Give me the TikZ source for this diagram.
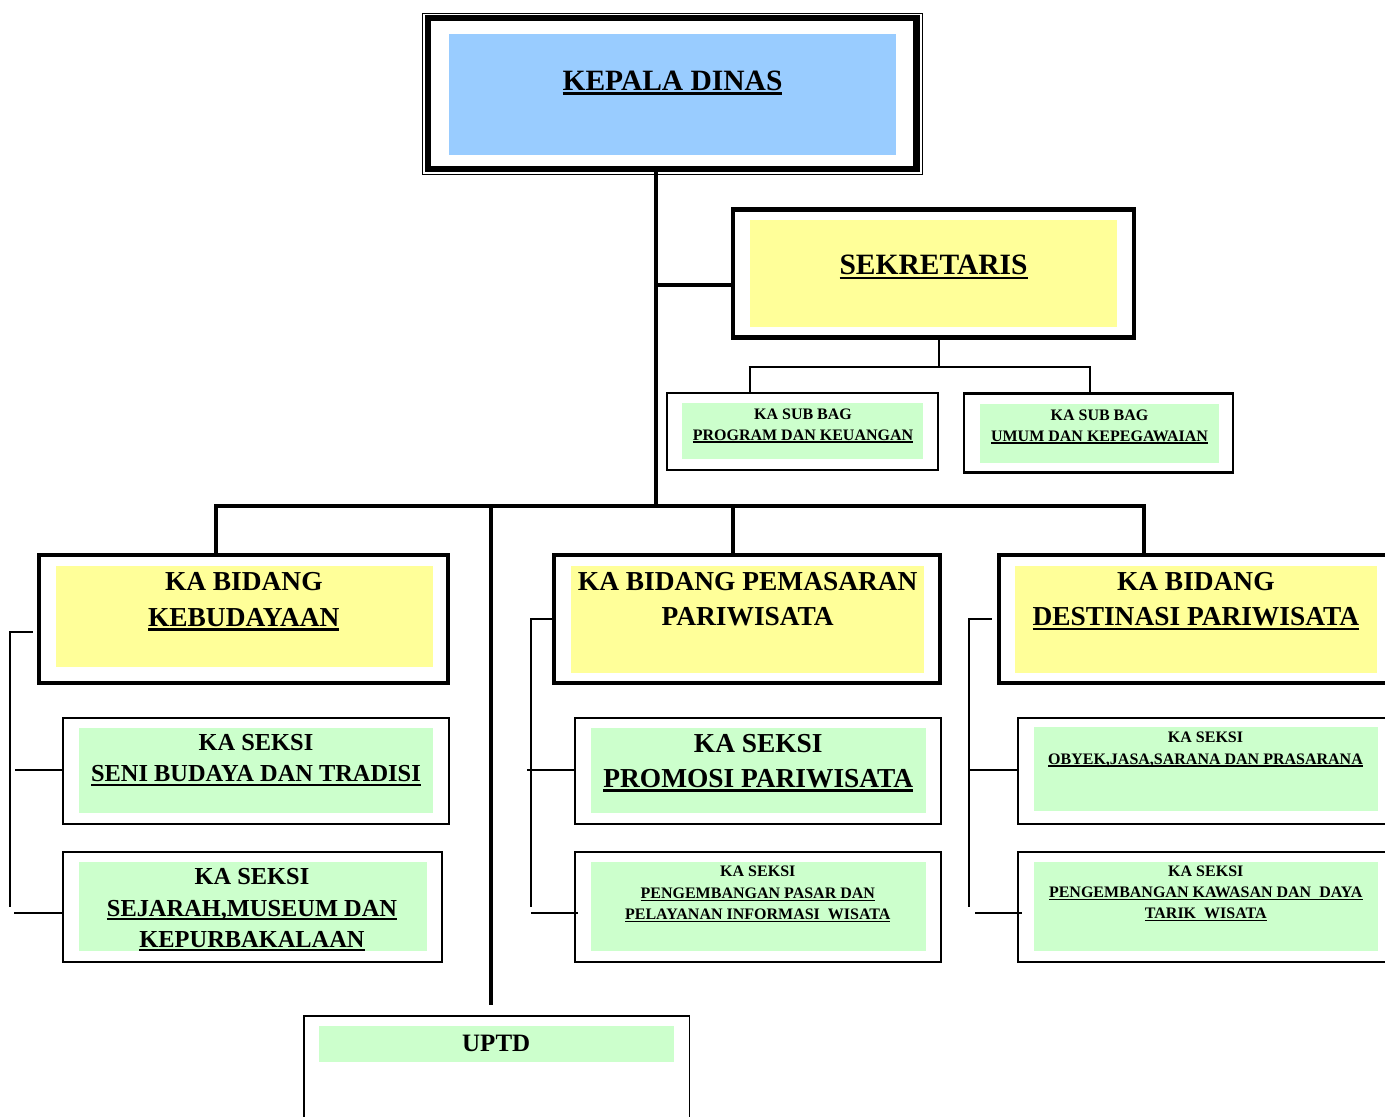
\documentclass[tikz,border=0pt]{standalone}
\usepackage{fontspec}
\setmainfont{Liberation Serif}
\usetikzlibrary{calc}
\definecolor{kdblue}{HTML}{99CCFF}
\definecolor{ylw}{HTML}{FFFF99}
\definecolor{grn}{HTML}{CCFFCC}
\newsavebox{\ulbx}
\newcommand{\myul}[1]{\sbox{\ulbx}{#1}\rlap{\rule[-0.165em]{\wd\ulbx}{0.09em}}\usebox{\ulbx}}
\begin{document}
\begin{tikzpicture}[x=1pt,y=-1pt,
  box/.style={draw=black, rectangle, inner sep=0pt, outer sep=0pt},
  heavybox/.style={box, line width=4pt},
  thinbox/.style={box, line width=2pt},
  lbl/.style={anchor=base, inner sep=0pt, outer sep=0pt, text=black},
  tA/.style={lbl, font=\bfseries\fontsize{29.5}{30}\selectfont},
  tB/.style={lbl, font=\bfseries\fontsize{27.4}{28}\selectfont},
  tC/.style={lbl, font=\bfseries\fontsize{24.4}{26}\selectfont},
  tD/.style={lbl, font=\bfseries\fontsize{16}{18}\selectfont},
  busline/.style={line width=4pt},
  subline/.style={line width=2.2pt},
  brk/.style={line width=2pt},
]
\useasboundingbox (0,0) rectangle (1385,1117);
\fill[white] (0,0) rectangle (1385,1117);
\clip (0,0) rectangle (1385,1117);

% ---------- fills ----------
\fill[kdblue] (449,34) rectangle (896,155);
\fill[ylw] (750,220) rectangle (1117,327);
\fill[grn] (682.3,403.3) rectangle (922.7,459.3);
\fill[grn] (980.4,404) rectangle (1218.8,462.7);
\fill[ylw] (56,566) rectangle (432.7,666.7);
\fill[ylw] (571,566) rectangle (924,672.7);
\fill[ylw] (1015,566) rectangle (1377.3,672.7);
\fill[grn] (79,728.3) rectangle (433.3,813.3);
\fill[grn] (79,861.7) rectangle (427.3,951);
\fill[grn] (591,728.3) rectangle (925.7,813.3);
\fill[grn] (591,861.7) rectangle (925.7,951);
\fill[grn] (1034,727.3) rectangle (1377.7,810.7);
\fill[grn] (1034,861.7) rectangle (1377.7,951);
\fill[grn] (319.3,1026) rectangle (674,1061.7);

% ---------- boxes ----------
\draw[line width=1.3pt] (422.5,13.5) rectangle (922.5,174.5);
\node[box, line width=6.5pt, minimum width=488.5pt, minimum height=151pt] (kd) at (672.25,93.5) {};
\node[box, line width=4.5pt, minimum width=401pt, minimum height=128pt] (sek) at (933.5,273.5) {};
\node[thinbox, minimum width=271.5pt, minimum height=77.5pt] (sb1) at (802.25,431.25) {};
\node[box, line width=2.5pt, minimum width=269pt, minimum height=79pt] (sb2) at (1098.5,433) {};
\node[heavybox, minimum width=409.3pt, minimum height=127.7pt] (kb) at (243.35,619.15) {};
\node[heavybox, minimum width=385.4pt, minimum height=127.7pt] (pm) at (747,619.15) {};
\node[heavybox, minimum width=401.3pt, minimum height=127.7pt] (ds) at (1199.35,619.15) {};
\node[thinbox, minimum width=386.5pt, minimum height=106pt] (seni) at (255.75,770.5) {};
\node[thinbox, minimum width=379.5pt, minimum height=110pt] (sej) at (252.25,906.5) {};
\node[thinbox, minimum width=366.2pt, minimum height=106pt] (prom) at (757.9,770.5) {};
\node[thinbox, minimum width=366.2pt, minimum height=110pt] (psr) at (757.9,906.5) {};
\node[thinbox, minimum width=382.5pt, minimum height=106pt] (oby) at (1208.75,770.5) {};
\node[thinbox, minimum width=382.5pt, minimum height=110pt] (kws) at (1208.75,906.5) {};
\node[box, line width=1.5pt, minimum width=385.3pt, minimum height=114.2pt] (uptd) at (496.65,1072.9) {};

% ---------- texts ----------
\node[tA] (kd-t) at (672.5,90) {\myul{KEPALA DINAS}};
\node[tA] (sek-t) at (933.5,274.5) {\myul{SEKRETARIS}};
\node[tD] (sb1-t1) at (803,419.3) {KA SUB BAG};
\node[tD] (sb1-t2) at (803,440) {\myul{PROGRAM DAN KEUANGAN}};
\node[tD] (sb2-t1) at (1099.5,420.7) {KA SUB BAG};
\node[tD] (sb2-t2) at (1099.5,441) {\myul{UMUM DAN KEPEGAWAIAN}};
\node[tB] (kb-t1) at (243.8,590.7) {KA BIDANG};
\node[tB] (kb-t2) at (243.8,626) {\myul{KEBUDAYAAN}};
\node[tB] (pm-t1) at (747.7,590.7) {KA BIDANG PEMASARAN};
\node[tB] (pm-t2) at (747.7,625.7) {PARIWISATA};
\node[tB] (ds-t1) at (1195.8,590.7) {KA BIDANG};
\node[tB] (ds-t2) at (1195.8,625.7) {\myul{DESTINASI PARIWISATA}};
\node[tC] (seni-t1) at (256,750.7) {KA SEKSI};
\node[tC] (seni-t2) at (256,781.7) {\myul{SENI BUDAYA DAN TRADISI}};
\node[tC] (sej-t1) at (252,884) {KA SEKSI};
\node[tC] (sej-t2) at (252,916) {\myul{SEJARAH,MUSEUM DAN}};
\node[tC] (sej-t3) at (252,947.3) {\myul{KEPURBAKALAAN}};
\node[tB] (prom-t1) at (758.3,752.3) {KA SEKSI};
\node[tB] (prom-t2) at (758.3,787.3) {\myul{PROMOSI PARIWISATA}};
\node[tD] (psr-t1) at (757.8,876.7) {KA SEKSI};
\node[tD] (psr-t2) at (757.8,898.3) {\myul{PENGEMBANGAN PASAR DAN}};
\node[tD] (psr-t3) at (757.8,919.3) {\myul{PELAYANAN INFORMASI\ \ WISATA}};
\node[tD] (oby-t1) at (1205.5,742.7) {KA SEKSI};
\node[tD] (oby-t2) at (1205.5,764) {\myul{OBYEK,JASA,SARANA DAN PRASARANA}};
\node[tD] (kws-t1) at (1205.8,876) {KA SEKSI};
\node[tD] (kws-t2) at (1205.8,897.3) {\myul{PENGEMBANGAN KAWASAN DAN\ \ DAYA}};
\node[tD] (kws-t3) at (1205.8,918.3) {\myul{TARIK\ \ WISATA}};
\node[lbl, font=\bfseries\fontsize{25}{27}\selectfont] (uptd-t) at (496.2,1051) {UPTD};

% ---------- connectors ----------
\coordinate (j) at (656,506);
\coordinate (sj) at (656,284.7);
\coordinate (bL) at (216,506);
\coordinate (bM) at (733,506);
\coordinate (bR) at (1144,506);
\coordinate (bU) at (490.5,506);
\coordinate (uend) at (490.5,1005);
\draw[busline] (j |- kd.south) -- (j);
\draw[busline] (sj) -- (sj -| sek.west);
\draw[busline] ([xshift=-2pt]bL) -- ([xshift=2pt]bR);
\draw[busline] (bL) -- (bL |- kb.north);
\draw[busline] (bM) -- (bM |- pm.north);
\draw[busline] (bR) -- (bR |- ds.north);
\draw[busline] (bU) -- (uend);

\coordinate (sbj) at (939,367);
\coordinate (sbl) at (749.6,367);
\coordinate (sbr) at (1090,367);
\draw[subline] (sbj |- sek.south) -- (sbj);
\draw[subline] ([xshift=-1pt]sbl) -- ([xshift=1pt]sbr);
\draw[subline] (sbl) -- (sbl |- sb1.north);
\draw[subline] (sbr) -- (sbr |- sb2.north);

% left bracket
\coordinate (la) at (10,632);
\coordinate (lb) at (10,907);
\coordinate (lc) at (15,770);
\coordinate (ld) at (14,913);
\draw[brk] (la) -- (lb);
\draw[brk] ([xshift=-1pt]la) -- (33,632);
\draw[brk] (lc) -- (lc -| seni.west);
\draw[brk] (ld) -- (ld -| sej.west);
% middle bracket
\coordinate (ma) at (531,619);
\coordinate (mb) at (531,907);
\coordinate (mc) at (527.3,770);
\coordinate (md) at (531,913);
\draw[brk] (ma) -- (mb);
\draw[brk] ([xshift=-1pt]ma) -- (ma -| pm.west);
\draw[brk] (mc) -- (mc -| prom.west);
\draw[brk] (md) -- ($(md -| psr.west)+(3,0)$);
% right bracket
\coordinate (ra) at (969.3,619);
\coordinate (rb) at (969.3,907);
\coordinate (rc) at (969.3,770);
\coordinate (rd) at (975,913);
\draw[brk] (ra) -- (rb);
\draw[brk] ([xshift=-1pt]ra) -- (992.3,619);
\draw[brk] ([xshift=-1pt]rc) -- (rc -| oby.west);
\draw[brk] (rd) -- ($(rd -| kws.west)+(4,0)$);
\end{tikzpicture}
\end{document}
